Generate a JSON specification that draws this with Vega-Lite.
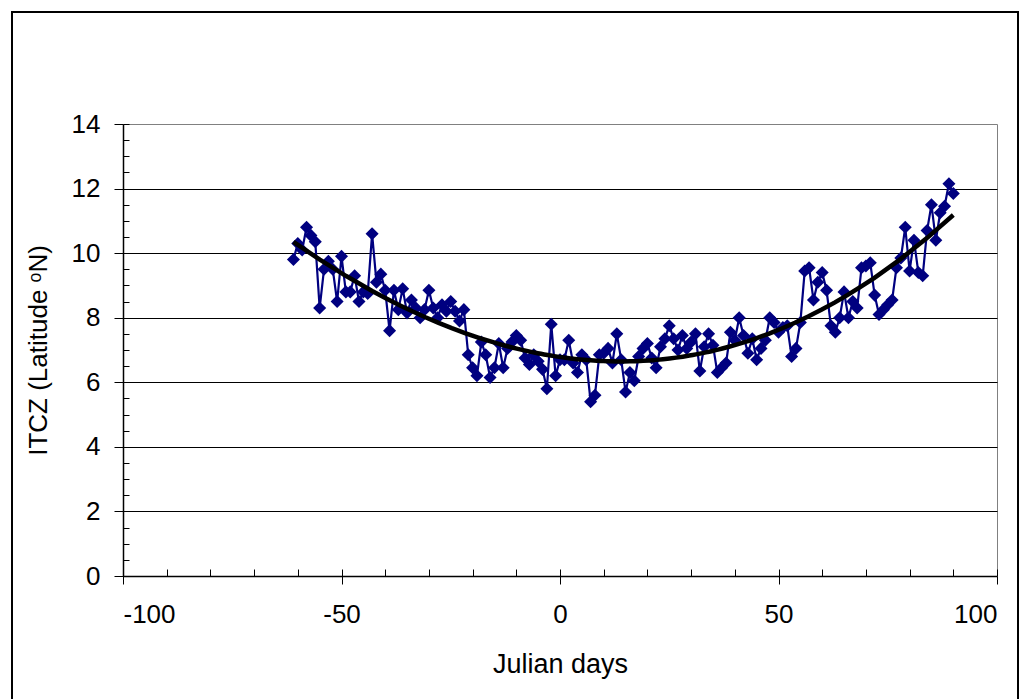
{
  "$schema": "https://vega.github.io/schema/vega-lite/v6.json",
  "autosize": "none",
  "width": 874,
  "height": 452,
  "padding": {"left": 123, "top": 124, "right": 23, "bottom": 123},
  "background": "white",
  "config": {
    "view": {"stroke": "#808080", "strokeWidth": 1},
    "font": "Liberation Sans",
    "axis": {"labelFont": "Liberation Sans", "titleFont": "Liberation Sans", "labelColor": "black", "titleColor": "black", "titleFontWeight": "normal", "domainColor": "black", "tickColor": "black", "labelFontSize": 26, "titleFontSize": 26}
  },
  "data": {"values": [
    {"day": -61, "lat": 9.8}, {"day": -60, "lat": 10.3}, {"day": -59, "lat": 10.1}, {"day": -58, "lat": 10.8},
    {"day": -57, "lat": 10.55}, {"day": -56, "lat": 10.35}, {"day": -55, "lat": 8.3}, {"day": -54, "lat": 9.5},
    {"day": -53, "lat": 9.75}, {"day": -52, "lat": 9.5}, {"day": -51, "lat": 8.5}, {"day": -50, "lat": 9.9},
    {"day": -49, "lat": 8.8}, {"day": -48, "lat": 8.8}, {"day": -47, "lat": 9.3}, {"day": -46, "lat": 8.5},
    {"day": -45, "lat": 8.8}, {"day": -44, "lat": 8.75}, {"day": -43, "lat": 10.6}, {"day": -42, "lat": 9.1},
    {"day": -41, "lat": 9.35}, {"day": -40, "lat": 8.85}, {"day": -39, "lat": 7.6}, {"day": -38, "lat": 8.85},
    {"day": -37, "lat": 8.25}, {"day": -36, "lat": 8.9}, {"day": -35, "lat": 8.15}, {"day": -34, "lat": 8.55},
    {"day": -33, "lat": 8.3}, {"day": -32, "lat": 8.0}, {"day": -31, "lat": 8.25}, {"day": -30, "lat": 8.85},
    {"day": -29, "lat": 8.3}, {"day": -28, "lat": 8.0}, {"day": -27, "lat": 8.4}, {"day": -26, "lat": 8.2},
    {"day": -25, "lat": 8.5}, {"day": -24, "lat": 8.2}, {"day": -23, "lat": 7.9}, {"day": -22, "lat": 8.25},
    {"day": -21, "lat": 6.85}, {"day": -20, "lat": 6.45}, {"day": -19, "lat": 6.2}, {"day": -18, "lat": 7.25},
    {"day": -17, "lat": 6.85}, {"day": -16, "lat": 6.15}, {"day": -15, "lat": 6.45}, {"day": -14, "lat": 7.2},
    {"day": -13, "lat": 6.45}, {"day": -12, "lat": 7.05}, {"day": -11, "lat": 7.25}, {"day": -10, "lat": 7.45},
    {"day": -9, "lat": 7.3}, {"day": -8, "lat": 6.75}, {"day": -7, "lat": 6.55}, {"day": -6, "lat": 6.85},
    {"day": -5, "lat": 6.65}, {"day": -4, "lat": 6.4}, {"day": -3, "lat": 5.8}, {"day": -2, "lat": 7.8},
    {"day": -1, "lat": 6.2}, {"day": 0, "lat": 6.7}, {"day": 1, "lat": 6.7}, {"day": 2, "lat": 7.3},
    {"day": 3, "lat": 6.6}, {"day": 4, "lat": 6.3}, {"day": 5, "lat": 6.85}, {"day": 6, "lat": 6.7},
    {"day": 7, "lat": 5.4}, {"day": 8, "lat": 5.6}, {"day": 9, "lat": 6.85}, {"day": 10, "lat": 6.9},
    {"day": 11, "lat": 7.05}, {"day": 12, "lat": 6.6}, {"day": 13, "lat": 7.5}, {"day": 14, "lat": 6.7},
    {"day": 15, "lat": 5.7}, {"day": 16, "lat": 6.3}, {"day": 17, "lat": 6.05}, {"day": 18, "lat": 6.8},
    {"day": 19, "lat": 7.05}, {"day": 20, "lat": 7.2}, {"day": 21, "lat": 6.75}, {"day": 22, "lat": 6.45},
    {"day": 23, "lat": 7.1}, {"day": 24, "lat": 7.35}, {"day": 25, "lat": 7.75}, {"day": 26, "lat": 7.35},
    {"day": 27, "lat": 7.0}, {"day": 28, "lat": 7.45}, {"day": 29, "lat": 7.05}, {"day": 30, "lat": 7.25},
    {"day": 31, "lat": 7.5}, {"day": 32, "lat": 6.35}, {"day": 33, "lat": 7.1}, {"day": 34, "lat": 7.5},
    {"day": 35, "lat": 7.15}, {"day": 36, "lat": 6.3}, {"day": 37, "lat": 6.45}, {"day": 38, "lat": 6.6},
    {"day": 39, "lat": 7.55}, {"day": 40, "lat": 7.3}, {"day": 41, "lat": 8.0}, {"day": 42, "lat": 7.45},
    {"day": 43, "lat": 6.9}, {"day": 44, "lat": 7.35}, {"day": 45, "lat": 6.7}, {"day": 46, "lat": 7.05},
    {"day": 47, "lat": 7.3}, {"day": 48, "lat": 8.0}, {"day": 49, "lat": 7.85}, {"day": 50, "lat": 7.55},
    {"day": 51, "lat": 7.7}, {"day": 52, "lat": 7.75}, {"day": 53, "lat": 6.8}, {"day": 54, "lat": 7.05},
    {"day": 55, "lat": 7.85}, {"day": 56, "lat": 9.45}, {"day": 57, "lat": 9.55}, {"day": 58, "lat": 8.55},
    {"day": 59, "lat": 9.1}, {"day": 60, "lat": 9.4}, {"day": 61, "lat": 8.85}, {"day": 62, "lat": 7.75},
    {"day": 63, "lat": 7.55}, {"day": 64, "lat": 8.0}, {"day": 65, "lat": 8.8}, {"day": 66, "lat": 8.0},
    {"day": 67, "lat": 8.5}, {"day": 68, "lat": 8.3}, {"day": 69, "lat": 9.55}, {"day": 70, "lat": 9.6},
    {"day": 71, "lat": 9.7}, {"day": 72, "lat": 8.7}, {"day": 73, "lat": 8.1}, {"day": 74, "lat": 8.25},
    {"day": 75, "lat": 8.4}, {"day": 76, "lat": 8.55}, {"day": 77, "lat": 9.55}, {"day": 78, "lat": 9.85},
    {"day": 79, "lat": 10.8}, {"day": 80, "lat": 9.45}, {"day": 81, "lat": 10.4}, {"day": 82, "lat": 9.4},
    {"day": 83, "lat": 9.3}, {"day": 84, "lat": 10.7}, {"day": 85, "lat": 11.5}, {"day": 86, "lat": 10.4},
    {"day": 87, "lat": 11.25}, {"day": 88, "lat": 11.45}, {"day": 89, "lat": 12.15}, {"day": 90, "lat": 11.85}
  ]},
  "resolve": {"axis": {"x": "independent", "y": "independent"}},
  "layer": [
    {
      "mark": {"type": "rect", "fill": null, "stroke": "black", "strokeWidth": 1, "clip": false},
      "encoding": {
        "x": {"datum": -125.4, "type": "quantitative", "scale": {"domain": [-100, 100], "nice": false, "zero": false}, "axis": null},
        "x2": {"datum": 104.9},
        "y": {"datum": 17.47, "type": "quantitative", "scale": {"domain": [0, 14], "nice": false, "zero": false}, "axis": null},
        "y2": {"datum": -3.9}
      }
    },
    {
      "mark": {"type": "line", "color": "#000080", "strokeWidth": 2.2, "point": {"shape": "diamond", "filled": true, "size": 170, "color": "#000080"}},
      "encoding": {
        "x": {"field": "day", "type": "quantitative", "axis": {"orient": "bottom", "values": [-100, -50, 0, 50, 100], "labelExpr": "'' + datum.value", "title": "Julian days", "titleFontSize": 27, "tickSize": 8, "labelPadding": 17, "titlePadding": 24, "grid": false, "domainWidth": 1.5}},
        "y": {"field": "lat", "type": "quantitative", "axis": {"orient": "left", "values": [0, 2, 4, 6, 8, 10, 12, 14], "title": "ITCZ (Latitude ᵒN)", "tickSize": 9, "labelPadding": 14, "titlePadding": 20, "grid": true, "gridColor": "black", "gridWidth": 1, "gridOpacity": {"condition": {"test": "datum.value == 0 || datum.value == 14", "value": 0}, "value": 1}, "domainWidth": 1.5}}
      }
    },
    {
      "transform": [{"regression": "lat", "on": "day", "method": "poly", "order": 3}],
      "mark": {"type": "line", "color": "black", "strokeWidth": 4.5},
      "encoding": {
        "x": {"field": "day", "type": "quantitative", "axis": {"orient": "bottom", "values": [-100, -90, -80, -70, -60, -50, -40, -30, -20, -10, 0, 10, 20, 30, 40, 50, 60, 70, 80, 90, 100], "tickSize": -7, "labels": false, "domain": false, "grid": false, "title": null}},
        "y": {"field": "lat", "type": "quantitative", "axis": {"orient": "left", "values": [0, 0.5, 1, 1.5, 2, 2.5, 3, 3.5, 4, 4.5, 5, 5.5, 6, 6.5, 7, 7.5, 8, 8.5, 9, 9.5, 10, 10.5, 11, 11.5, 12, 12.5, 13, 13.5, 14], "tickSize": -6, "labels": false, "domain": false, "grid": false, "title": null}}
      }
    }
  ]
}
